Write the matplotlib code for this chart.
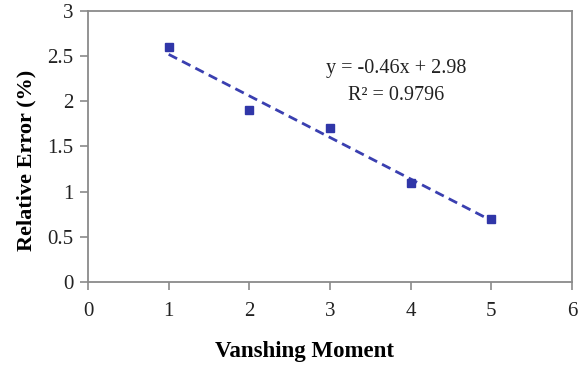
import matplotlib
matplotlib.use("Agg")
import matplotlib.pyplot as plt
import numpy as np

VANISHING_MOMENT = [1, 2, 3, 4, 5]
RELATIVE_ERROR = [2.6, 1.9, 1.7, 1.1, 0.7]
X_TICKS = [0, 1, 2, 3, 4, 5, 6]
Y_TICKS = [0, 0.5, 1, 1.5, 2, 2.5, 3]
Y_TICK_LABELS = ["0", "0.5", "1", "1.5", "2", "2.5", "3"]

plt.rcParams["font.family"] = ["Liberation Serif", "DejaVu Serif"]

MARKER_COLOR = "#3036A8"
FRAME_COLOR = "#8A8A8A"


def main():
    fig = plt.figure(figsize=(5.81, 3.65), dpi=100)
    ax = fig.add_axes([0.1515, 0.2274, 0.8330, 0.7425])

    x = np.asarray(VANISHING_MOMENT, dtype=float)
    y = np.asarray(RELATIVE_ERROR, dtype=float)
    slope, intercept = np.polyfit(x, y, 1)
    fit = slope * x + intercept
    r2 = 1 - np.sum((y - fit) ** 2) / np.sum((y - y.mean()) ** 2)

    ax.plot(x, fit, linestyle=(0, (3.4, 2.0)), color="#3A3FB0", linewidth=2.0, zorder=2)
    ax.plot(x, y, linestyle="none", marker="s", markersize=6, color=MARKER_COLOR, zorder=3)

    ax.text(3.82, 2.36, f"y = {slope:.2f}x + {intercept:.2f}", ha="center", va="center", fontsize=14.5, color="#222222")
    ax.text(3.82, 2.07, f"R\u00b2 = {r2:.4f}", ha="center", va="center", fontsize=14.5, color="#222222")

    ax.set_xlim(0, 6)
    ax.set_ylim(0, 3)
    ax.set_xticks(X_TICKS)
    ax.set_yticks(Y_TICKS)
    ax.set_yticklabels(Y_TICK_LABELS)

    for spine in ax.spines.values():
        spine.set_color(FRAME_COLOR)
        spine.set_linewidth(1.3)
    ax.tick_params(direction="out", length=5.5, width=1.2, color=FRAME_COLOR, labelsize=15, labelcolor="#222222")
    ax.tick_params(axis="x", pad=9)
    ax.tick_params(axis="y", pad=5)

    ax.set_xlabel("Vanshing Moment", fontsize=16.5, fontweight="bold", labelpad=14)
    ax.set_ylabel("Relative Error (%)", fontsize=16, fontweight="bold", labelpad=8)
    ax.xaxis.label.set_x(0.448)
    ax.yaxis.label.set_y(0.45)

    fig.savefig("out.png", dpi=100)
    plt.close(fig)


if __name__ == "__main__":
    main()
